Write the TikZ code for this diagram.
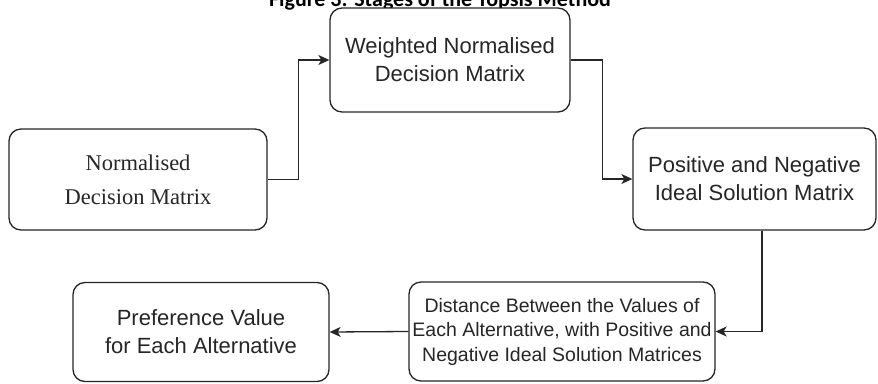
\documentclass[tikz,border=0pt]{standalone}
\usepackage{fontspec}
\setmainfont{Liberation Serif}
\setsansfont{Liberation Sans}
\newfontfamily\titlefont{Carlito}
\usetikzlibrary{positioning}
\usetikzlibrary{arrows.meta}
\usetikzlibrary{calc}
\tikzstyle{stage}=[rectangle,rounded corners=12pt,draw=black!85,line width=1.3pt,fill=white,inner sep=0pt,align=center,text=black!85]
\tikzstyle{sanstext}=[font=\sffamily\fontsize{22}{28}\selectfont]
\tikzstyle{edge} = [draw,line width=1.3pt,black!85,-{Stealth[length=11pt,width=10pt,inset=3pt]}]

\begin{document}
\begin{tikzpicture}[x=1pt,y=1pt]

    \useasboundingbox (0,0) rectangle (878,-383);
    \begin{scope}
      \clip (0,0) rectangle (878,-383);
      \node[anchor=base, inner sep=0pt, font=\titlefont\bfseries\fontsize{22}{26}\selectfont] (title) at (440,-6) {Figure 3: Stages of the Topsis Method};
    \end{scope}

    \node[stage, minimum width=258pt, minimum height=101pt, font=\rmfamily\fontsize{22.5}{34}\selectfont] (NDM) at (138,-179.5) {Normalised\\Decision Matrix};

    \foreach \pos/\name/\w/\h/\label in {{(450,-60)/WNDM/240/104/{Weighted Normalised\\Decision Matrix}}, {(754.5,-179)/PNIS/243/102/{Positive and Negative\\ Ideal Solution Matrix}}, {(201,-332)/PV/256/99/{Preference Value\\for Each Alternative}}}
        \node[stage, sanstext, minimum width=\w pt, minimum height=\h pt] (\name) at \pos {\label};

    \node[stage, minimum width=306pt, minimum height=99pt, font=\sffamily\fontsize{19.5}{24.5}\selectfont] (DIST) at (562,-331.5) {Distance Between the Values of\\Each Alternative, with Positive and\\Negative Ideal Solution Matrices};

    \path[edge] (NDM.east) -- ++(31,0) |- (WNDM.west);
    \path[edge] (WNDM.east) -- ++(32,0) |- (PNIS.west);
    \path[edge] ([xshift=7.5pt]PNIS.south) |- (DIST.east);
    \path[edge] (DIST.west) -- (PV.east);

    \end{tikzpicture}
\end{document}
